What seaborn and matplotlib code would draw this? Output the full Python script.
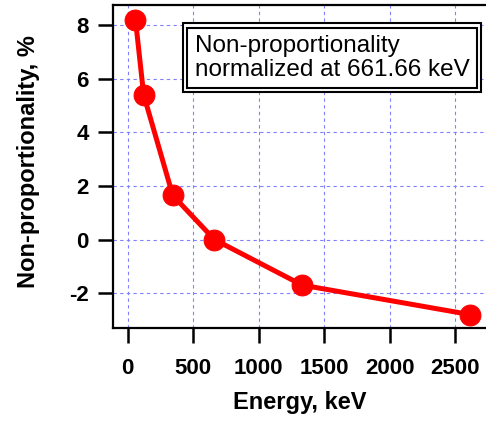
"""Non-proportionality vs energy, normalized at 661.66 keV."""
import matplotlib
matplotlib.use("Agg")
import matplotlib.pyplot as plt
import seaborn as sns

energy_kev = [59.5, 122, 344, 661.66, 1332, 2614]
nonprop_pct = [8.2, 5.4, 1.65, 0.0, -1.7, -2.8]

x_ticks = [0, 500, 1000, 1500, 2000, 2500]
y_ticks = [-2, 0, 2, 4, 6, 8]


def main():
    sns.set_style("white")
    plt.rcParams["font.family"] = ["Liberation Sans", "DejaVu Sans"]
    plt.rcParams["axes.unicode_minus"] = False
    plt.rcParams["text.color"] = "black"
    plt.rcParams["axes.labelcolor"] = "black"
    plt.rcParams["xtick.color"] = "black"
    plt.rcParams["ytick.color"] = "black"

    fig = plt.figure(figsize=(4.86, 4.23), dpi=100)
    ax = fig.add_axes([113 / 486, 95 / 423, 373 / 486, 323 / 423])

    sns.lineplot(
        x=energy_kev,
        y=nonprop_pct,
        ax=ax,
        color="red",
        linewidth=3.6,
        marker="o",
        markersize=15,
        markeredgecolor="red",
        zorder=3,
    )

    ax.set_xlim(-112, 2735)
    ax.set_ylim(-3.3, 8.75)
    ax.set_xticks(x_ticks)
    ax.set_yticks(y_ticks)
    ax.grid(True, color="#8080ff", linestyle=(0, (3, 3)), linewidth=0.8)

    for side in ["left", "bottom", "top"]:
        ax.spines[side].set_visible(True)
        ax.spines[side].set_color("black")
        ax.spines[side].set_linewidth(1.6)
    ax.spines["right"].set_visible(False)

    ax.tick_params(axis="both", direction="out", length=10.5, width=1.8,
                   color="black", labelcolor="black", labelsize=16)
    ax.tick_params(axis="x", pad=11, bottom=True)
    ax.tick_params(axis="y", pad=7, left=True)
    for lab in ax.get_xticklabels() + ax.get_yticklabels():
        lab.set_fontweight("bold")

    ax.set_xlabel("Energy, keV", fontsize=17, fontweight="bold", labelpad=9)
    ax.set_ylabel("Non-proportionality, %", fontsize=17, fontweight="bold")
    ax.yaxis.set_label_coords(-0.197, 0.514)

    label = "Non-proportionality\nnormalized at 661.66 keV"
    ax.text(0.587, 0.836, label, transform=ax.transAxes, ha="center",
            va="center", multialignment="left", fontsize=17.5, color="none",
            zorder=4, linespacing=1.1,
            bbox=dict(boxstyle="square,pad=0.48", facecolor="white",
                      edgecolor="black", linewidth=1.5))
    ax.text(0.587, 0.836, label, transform=ax.transAxes, ha="center",
            va="center", multialignment="left", fontsize=17.5, color="black",
            zorder=5, linespacing=1.1,
            bbox=dict(boxstyle="square,pad=0.3", facecolor="white",
                      edgecolor="black", linewidth=1.5))

    fig.savefig("out.png", dpi=100)
    plt.close(fig)


if __name__ == "__main__":
    main()
